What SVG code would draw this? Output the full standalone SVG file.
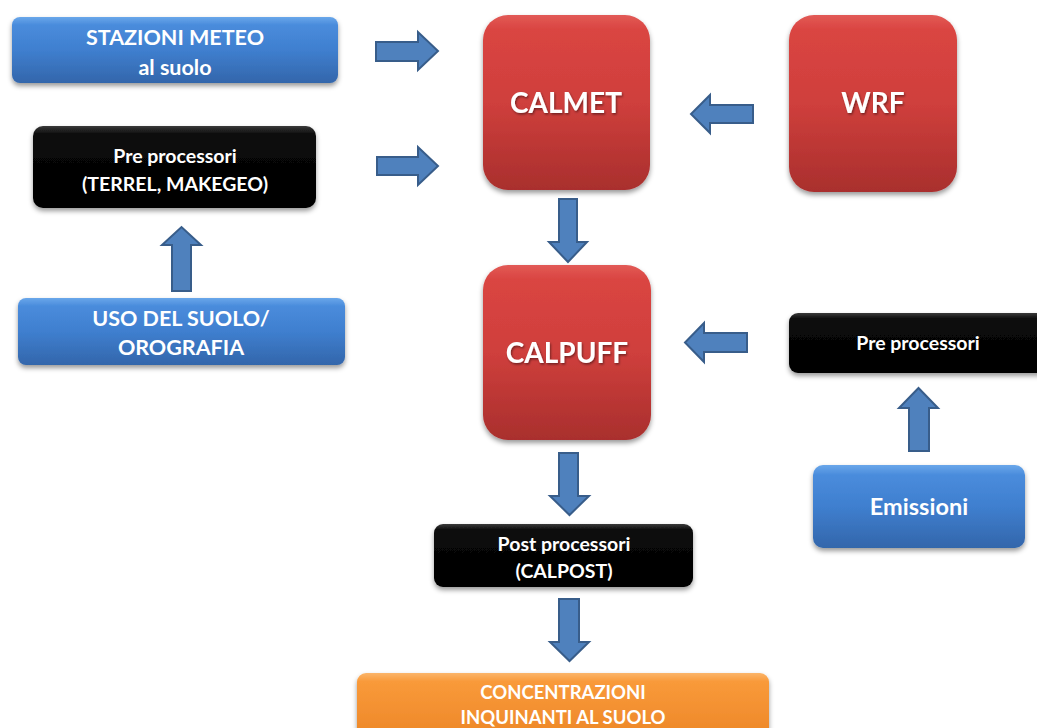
<svg xmlns="http://www.w3.org/2000/svg" width="1037" height="728" viewBox="0 0 1037 728">
<defs>
<linearGradient id="gBlue" x1="0" y1="0" x2="0" y2="1">
<stop offset="0" stop-color="#6aa7ea"/><stop offset="0.12" stop-color="#4a8cdc"/><stop offset="0.5" stop-color="#3f7fcf"/><stop offset="1" stop-color="#3366ab"/>
</linearGradient>
<linearGradient id="gRed" x1="0" y1="0" x2="0" y2="1">
<stop offset="0" stop-color="#e25a56"/><stop offset="0.08" stop-color="#da4542"/><stop offset="0.5" stop-color="#cf3f3c"/><stop offset="1" stop-color="#a92f2d"/>
</linearGradient>
<linearGradient id="gBlack" x1="0" y1="0" x2="0" y2="1">
<stop offset="0" stop-color="#3a3a3a"/><stop offset="0.1" stop-color="#0a0a0a"/><stop offset="1" stop-color="#000"/>
</linearGradient>
<linearGradient id="gOrange" x1="0" y1="0" x2="0" y2="1">
<stop offset="0" stop-color="#fbb56a"/><stop offset="0.12" stop-color="#f99a3a"/><stop offset="1" stop-color="#ec8526"/>
</linearGradient>
<filter id="sh" x="-10%" y="-10%" width="120%" height="130%">
<feDropShadow dx="0" dy="3" stdDeviation="2.5" flood-color="#000" flood-opacity="0.4"/>
</filter>
<filter id="tsh" x="-10%" y="-20%" width="120%" height="150%">
<feDropShadow dx="1" dy="1.5" stdDeviation="1" flood-color="#000" flood-opacity="0.45"/>
</filter>
</defs>
<style>
text{font-family:Lato,"Open Sans","Liberation Sans",sans-serif;font-weight:bold;fill:#fff;text-anchor:middle}
.t21{font-size:21.5px}
.t23{font-size:23.5px}
.tb{font-size:19.5px}
.t18{font-size:18.5px}
.t28{font-size:28px}
.box{filter:url(#sh)}
.arr{fill:#4f81bd;stroke:#385d8a;stroke-width:2;stroke-linejoin:miter}
.ts{filter:url(#tsh)}
</style>
<rect width="1037" height="728" fill="#fff"/>

<g id="stazioni">
<rect class="box" x="12" y="17" width="326" height="66" rx="8" fill="url(#gBlue)"/>
<text class="t21" x="175" y="45">STAZIONI METEO</text>
<text class="t21" x="175" y="75">al suolo</text>
</g>

<g id="preproc1">
<rect class="box" x="33" y="126" width="283" height="82" rx="10" fill="url(#gBlack)"/>
<text class="tb" x="175" y="163">Pre processori</text>
<text class="tb" x="175" y="191">(TERREL, MAKEGEO)</text>
</g>

<g id="uso">
<rect class="box" x="18" y="298" width="327" height="67" rx="8" fill="url(#gBlue)"/>
<text class="t21" x="181" y="326">USO DEL SUOLO/</text>
<text class="t21" x="181" y="355">OROGRAFIA</text>
</g>

<g id="calmet">
<rect class="box" x="483" y="15" width="167" height="175" rx="25" fill="url(#gRed)"/>
<text class="t28 ts" x="566" y="113">CALMET</text>
</g>

<g id="wrf">
<rect class="box" x="789" y="15" width="168" height="177" rx="25" fill="url(#gRed)"/>
<text class="t28 ts" x="873" y="113">WRF</text>
</g>

<g id="calpuff">
<rect class="box" x="483" y="265" width="168" height="175" rx="25" fill="url(#gRed)"/>
<text class="t28 ts" x="567" y="363">CALPUFF</text>
</g>

<g id="preproc2">
<rect class="box" x="789" y="313" width="262" height="60" rx="9" fill="url(#gBlack)"/>
<text class="tb" x="918" y="350">Pre processori</text>
</g>

<g id="emissioni">
<rect class="box" x="813" y="465" width="212" height="83" rx="10" fill="url(#gBlue)"/>
<text class="t23" x="919" y="515">Emissioni</text>
</g>

<g id="postproc">
<rect class="box" x="434" y="524" width="259" height="63" rx="9" fill="url(#gBlack)"/>
<text class="tb" x="564" y="551">Post processori</text>
<text class="tb" x="564" y="578">(CALPOST)</text>
</g>

<g id="concentrazioni">
<rect class="box" x="357" y="673" width="412" height="70" rx="9" fill="url(#gOrange)"/>
<text class="t18" x="563" y="699">CONCENTRAZIONI</text>
<text class="t18" x="563" y="724">INQUINANTI AL SUOLO</text>
</g>

<g id="connectors">
<polygon class="arr" points="376,42 418,42 418,32 438,51 418,70 418,61 376,61"/>
<polygon class="arr" points="377,157 418,157 418,147 438,166 418,185 418,175 377,175"/>
<polygon class="arr" points="753,105 710,105 710,95 691,114 710,133 710,123 753,123"/>
<polygon class="arr" points="559,199 577,199 577,242 587,242 568,262 549,242 559,242"/>
<polygon class="arr" points="172,291 172,245 162,245 181.5,227 201,245 191,245 191,291"/>
<polygon class="arr" points="747,333 704,333 704,323 685,342.5 704,362 704,352 747,352"/>
<polygon class="arr" points="909,451 909,408 899,408 918.5,388 938,408 929,408 929,451"/>
<polygon class="arr" points="559,453 578,453 578,496 589,496 569.5,515 550,496 559,496"/>
<polygon class="arr" points="559,599 579,599 579,642 589,642 569.5,661 550,642 559,642"/>
</g>
</svg>
